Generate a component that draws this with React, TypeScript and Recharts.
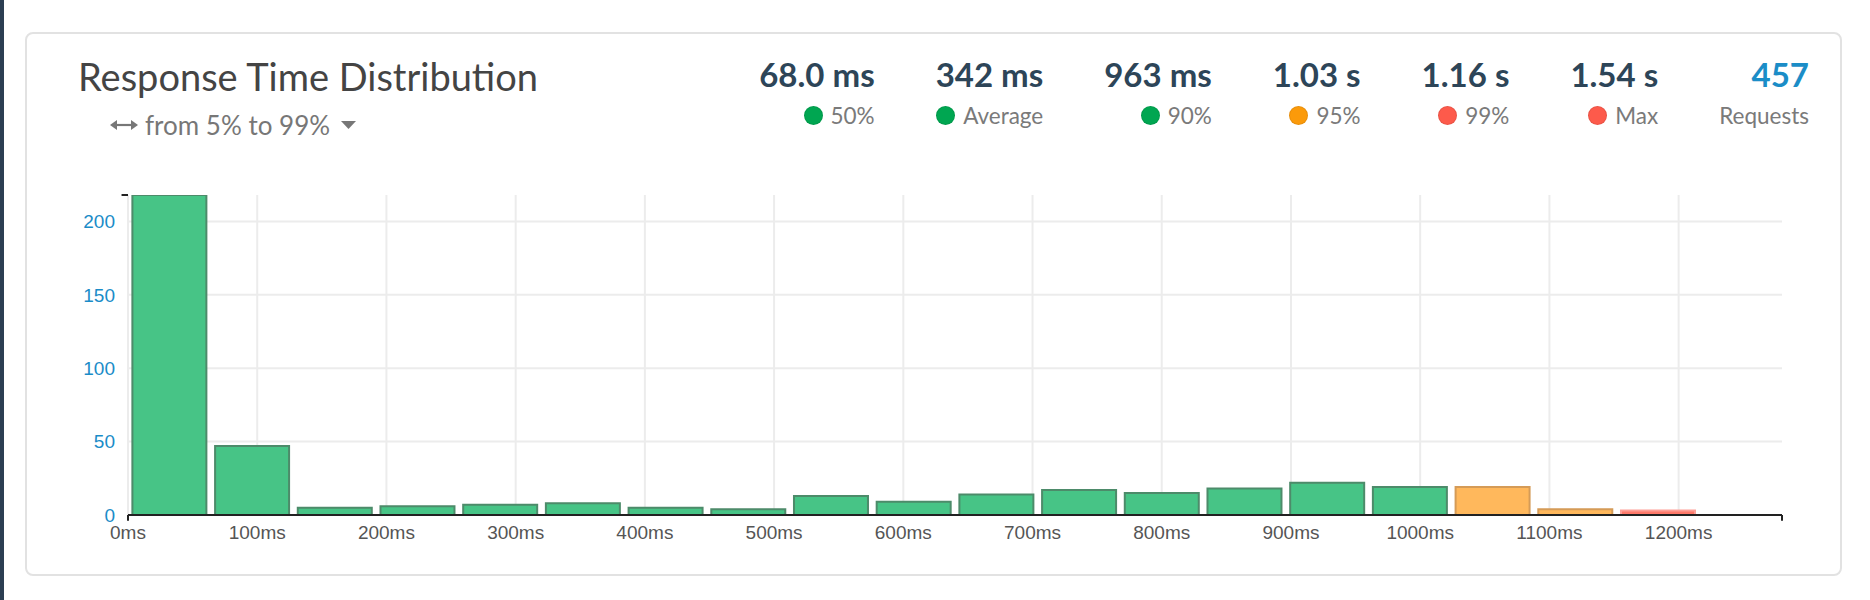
import React from 'react';
import { BarChart, Bar, XAxis, YAxis, CartesianGrid, Cell, ReferenceLine } from 'recharts';

// ---- data ----
const binCenters = [32, 96, 160, 224, 288, 352, 416, 480, 544, 608, 672, 736, 800, 864, 928, 992, 1056, 1120, 1184, 1248];
const counts = [218, 47, 5, 6, 7, 8, 5, 4, 13, 9, 14, 17, 15, 18, 22, 19, 19, 4, 3, 0];
const levels = ['ok', 'ok', 'ok', 'ok', 'ok', 'ok', 'ok', 'ok', 'ok', 'ok', 'ok', 'ok', 'ok', 'ok', 'ok', 'ok', 'warn', 'warn', 'crit', 'crit'];
const xTicks = [0, 100, 200, 300, 400, 500, 600, 700, 800, 900, 1000, 1100, 1200];
const yTicks = [0, 50, 100, 150, 200];
const xDomainMax = 1280;

const statValues = ['68.0 ms', '342 ms', '963 ms', '1.03 s', '1.16 s', '1.54 s', '457'];
const statLabels = ['50%', 'Average', '90%', '95%', '99%', 'Max', 'Requests'];
const statLevels = ['ok', 'ok', 'ok', 'warn', 'crit', 'crit', 'none'];

const title = 'Response Time Distribution';
const subtitle = 'from 5% to 99%';

// ---- styles ----
const barFill: Record<string, string> = { ok: '#47c486', warn: '#ffb85c', crit: '#ff7a6b' };
const barStroke: Record<string, string> = { ok: '#4d8b6a', warn: '#d59b57', crit: '#ffa097' };
const dotColor: Record<string, string> = { ok: '#00a651', warn: '#fb9a0a', crit: '#fd5a4b' };

const data = binCenters.map((x, i) => ({ x, count: counts[i], level: levels[i] }));
const yMax = Math.max(...counts);

const headFont = 'Lato, "Noto Sans", sans-serif';
const axisFont = '"Liberation Sans", Arial, sans-serif';

export default function App() {
  return (
    <div style={{ position: 'absolute', left: 0, top: 0, width: 1870, height: 600, background: '#fff', overflow: 'hidden', fontFamily: headFont }}>
      <div style={{ position: 'absolute', left: 0, top: 0, width: 4, height: 600, background: '#2c3e52' }} />
      <div style={{ position: 'absolute', left: 25, top: 32, width: 1817, height: 544, boxSizing: 'border-box', border: '2px solid #e2e2e2', borderRadius: 8, background: '#fff' }} />

      <div style={{ position: 'absolute', left: 78, top: 57, fontSize: 38, lineHeight: '38px', color: '#444', whiteSpace: 'nowrap' }}>{title}</div>

      <div style={{ position: 'absolute', left: 110, top: 112, fontSize: 26, lineHeight: '26px', color: '#777', whiteSpace: 'nowrap', display: 'flex', alignItems: 'center' }}>
        <svg width={28} height={12} viewBox="0 0 28 12" style={{ marginRight: 7 }}>
          <line x1={4} y1={6} x2={24} y2={6} stroke="#777" strokeWidth={2.2} />
          <polygon points="0,6 7,1 7,11" fill="#777" />
          <polygon points="28,6 21,1 21,11" fill="#777" />
        </svg>
        <span>{subtitle}</span>
        <svg width={15} height={9} viewBox="0 0 15 9" style={{ marginLeft: 11 }}>
          <polygon points="0,0 15,0 7.5,8" fill="#777" />
        </svg>
      </div>

      <div style={{ position: 'absolute', right: 61, top: 58, display: 'flex', gap: 61 }}>
        {statValues.map((v, i) => (
          <div key={i} style={{ display: 'flex', flexDirection: 'column', alignItems: 'flex-end' }}>
            <div style={{ fontSize: 33, lineHeight: '33px', fontWeight: 700, color: statLevels[i] === 'none' ? '#1b8dc7' : '#2d4558', whiteSpace: 'nowrap' }}>{v}</div>
            <div style={{ marginTop: 13, height: 23, display: 'flex', alignItems: 'center', fontSize: 22.5, lineHeight: '23px', color: '#7a7a7a', whiteSpace: 'nowrap' }}>
              {statLevels[i] !== 'none' && (
                <span style={{ display: 'inline-block', width: 19, height: 19, borderRadius: '50%', background: dotColor[statLevels[i]], marginRight: 8, boxSizing: 'border-box', border: '1px solid rgba(0,0,0,0.08)' }} />
              )}
              <span>{statLabels[i]}</span>
            </div>
          </div>
        ))}
      </div>

      <div style={{ position: 'absolute', left: 0, top: 0 }}>
        <BarChart width={1870} height={600} data={data} margin={{ top: 195, right: 88, left: 68, bottom: 45 }} barCategoryGap="5.3%">
          <CartesianGrid stroke="#ececec" strokeWidth={2} horizontal vertical syncWithTicks />
          <XAxis
            type="number"
            dataKey="x"
            domain={[0, xDomainMax]}
            ticks={xTicks}
            interval={0}
            tickFormatter={(v: number) => `${v}ms`}
            height={40}
            tickLine={false}
            tickSize={6}
            tickMargin={5}
            axisLine={{ stroke: '#222', strokeWidth: 2 }}
            tick={{ fill: '#555', fontSize: 19, fontFamily: axisFont }}
            allowDataOverflow
          />
          <YAxis
            type="number"
            domain={[0, yMax]}
            ticks={yTicks}
            interval={0}
            width={60}
            tickLine={false}
            axisLine={false}
            tickSize={6}
            tickMargin={7}
            tick={{ fill: '#1a8cc8', fontSize: 19, fontFamily: axisFont }}
            allowDataOverflow
          />
          <Bar dataKey="count" isAnimationActive={false} strokeWidth={2}>
            {data.map((d, i) => (
              <Cell key={i} fill={barFill[d.level]} stroke={barStroke[d.level]} />
            ))}
          </Bar>
          <ReferenceLine segment={[{ x: -5, y: yMax }, { x: 0, y: yMax }]} stroke="#222" strokeWidth={2} ifOverflow="visible" />
          <ReferenceLine segment={[{ x: 0, y: 0 }, { x: 0, y: -4 }]} stroke="#222" strokeWidth={2} ifOverflow="visible" />
          <ReferenceLine segment={[{ x: xDomainMax, y: 0 }, { x: xDomainMax, y: -4 }]} stroke="#222" strokeWidth={2} ifOverflow="visible" />
        </BarChart>
      </div>
    </div>
  );
}
